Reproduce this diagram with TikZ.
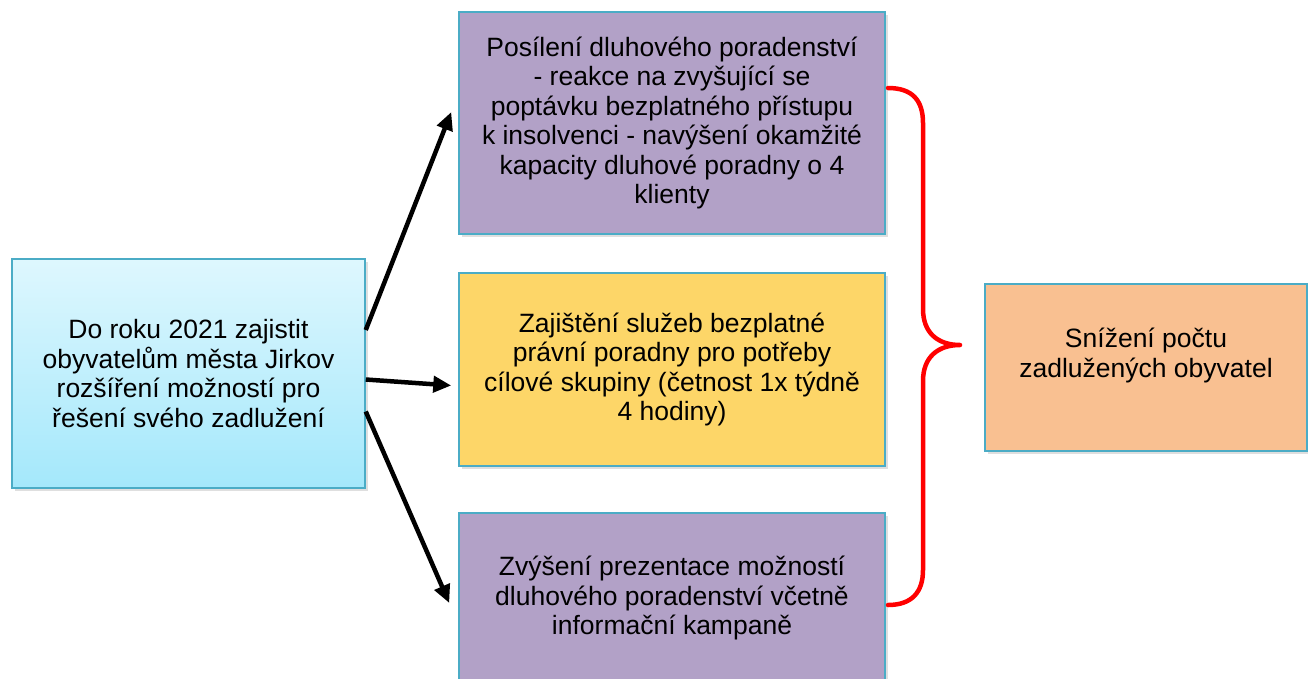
\documentclass[tikz,border=0pt]{standalone}
\usepackage{fontspec}
\setmainfont{Liberation Sans}
\usetikzlibrary{arrows.meta,shadows,calc}
\definecolor{bordc}{HTML}{4BACC6}
\definecolor{cyantop}{HTML}{DEF7FE}
\definecolor{cyanbot}{HTML}{A4E8FB}
\definecolor{purp}{HTML}{B2A1C7}
\definecolor{yell}{HTML}{FDD668}
\definecolor{orng}{HTML}{F9C091}
\definecolor{bracered}{HTML}{FF0000}
\tikzset{
  box/.style={draw=bordc, line width=1.5pt, rectangle, align=center, inner sep=0pt,
    font=\fontsize{26.5}{29.5}\selectfont,
    drop shadow={opacity=0.25, shadow xshift=2.5pt, shadow yshift=-2.5pt}},
  arr/.style={line width=4.5pt, -{Triangle[length=18pt,width=16pt]}, black},
  bracestyle/.style={draw=bracered, line width=4.5pt, line cap=round, line join=round}
}
\begin{document}
\begin{tikzpicture}[x=1pt,y=-1pt]
\clip (0,0) rectangle (1308,678);
\fill[white] (0,0) rectangle (1308,678);
\node[box, top color=cyantop, bottom color=cyanbot, minimum width=353pt, minimum height=229pt] (L) at (188.5,373.5)
  {Do roku 2021 zajistit\\obyvatelům města Jirkov\\rozšíření možností pro\\řešení svého zadlužení};
\node[box, fill=purp, minimum width=426pt, minimum height=222pt] (P1) at (672,123)
  {Posílení dluhového poradenství\\- reakce na zvyšující se\\poptávku bezplatného přístupu\\k insolvenci - navýšení okamžité\\kapacity dluhové poradny o 4\\klienty};
\node[box, fill=yell, minimum width=426pt, minimum height=193pt] (Y) at (672,369.5)
  {Zajištění služeb bezplatné\\právní poradny pro potřeby\\cílové skupiny (četnost 1x týdně\\4 hodiny)};
\node[box, fill=purp, minimum width=426pt, minimum height=170pt] (B) at (672,598)
  {Zvýšení prezentace možností\\dluhového poradenství včetně\\informační kampaně};
\node[box, fill=orng, minimum width=322pt, minimum height=167pt] (R) at (1146,367.5)
  {Snížení počtu\\zadlužených obyvatel\\\mbox{}};
\draw[arr] ([yshift=43.5pt]L.east) -- ([xshift=-7pt,yshift=11pt]P1.west);
\draw[arr] ([yshift=-6pt]L.east) -- ([xshift=-7pt,yshift=-16pt]Y.west);
\draw[arr] ([yshift=-38pt]L.east) -- ([xshift=-9pt,yshift=-5pt]B.west);
\coordinate (bt) at (888,88);
\coordinate (tip) at (960,345);
\coordinate (bb) at (888,605);
\draw[bracestyle] (bt) .. controls (912,88) and (923,100) .. (923,123)
  -- (923,309) .. controls (923,333) and (938,345) .. (tip)
  .. controls (938,345) and (923,357) .. (923,381)
  -- (923,570) .. controls (923,592) and (912,605) .. (bb);
\end{tikzpicture}
\end{document}
